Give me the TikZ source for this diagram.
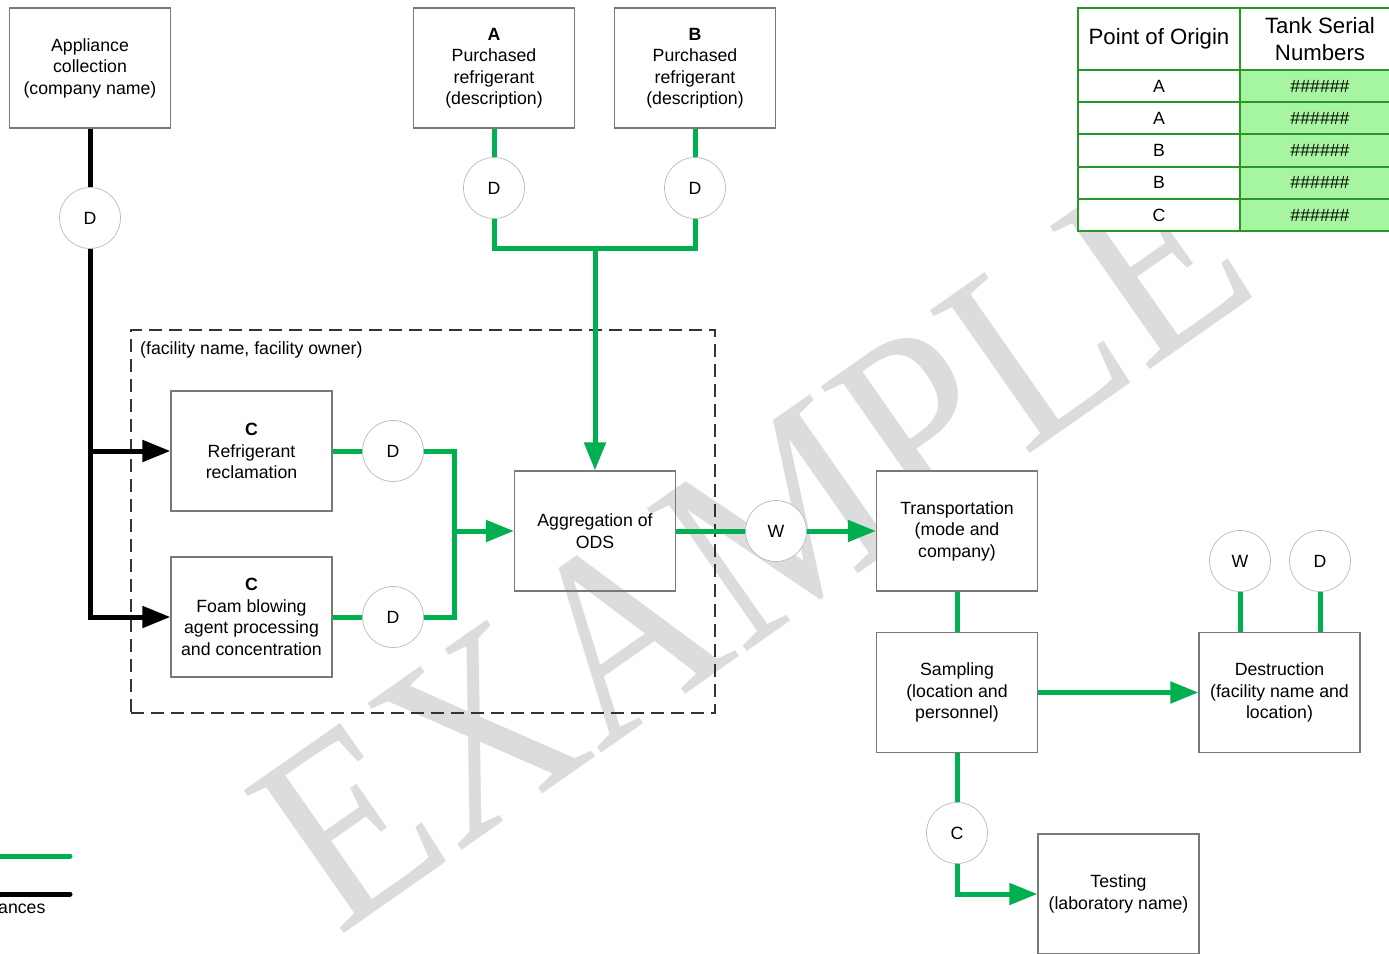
\documentclass[tikz,border=0pt]{standalone}
\usepackage{fontspec}
\setmainfont{Liberation Sans}
\newfontfamily\wmfont{Liberation Serif}
\usetikzlibrary{arrows.meta}
\definecolor{flowgreen}{RGB}{0,176,80}
\definecolor{tabgreen}{RGB}{40,150,40}
\definecolor{tabfill}{RGB}{166,245,160}
\definecolor{wmgray}{RGB}{220,220,220}
\definecolor{boxgray}{RGB}{120,120,120}
\begin{document}
\begin{tikzpicture}[x=1pt,y=-1pt,
  txt/.style={font=\fontsize{17.7}{21.5}\selectfont},
  box/.style={txt, draw=boxgray, line width=1.2pt, fill=white, minimum width=161pt, minimum height=120pt, inner sep=0pt, align=center},
  openbox/.style={box, fill=none},
  dot/.style={txt, circle, draw=gray!55, line width=0.7pt, fill=white, minimum size=61pt, inner sep=0pt},
  gline/.style={draw=flowgreen, line width=5pt},
  garrow/.style={gline, -{Triangle[length=28pt,width=21pt]}},
  bline/.style={draw=black, line width=5pt},
  barrow/.style={bline, -{Triangle[length=28pt,width=21pt]}},
  tabtxt/.style={txt, inner sep=0pt},
  tabhead/.style={font=\fontsize{22.2}{27}\selectfont, inner sep=0pt, align=center}
]
\useasboundingbox (0,0) rectangle (1389,953);
\clip (0,0) rectangle (1389,953);

% watermark
\node[rotate=35, anchor=base west, inner sep=0pt, text=wmgray, font=\wmfont\fontsize{266}{266}\selectfont] (wm) at (338,938) {\scalebox{0.9}[1]{EXAMPLE}};

% facility dashed frame
\node[draw=black!80, line width=1.8pt, dash pattern=on 13pt off 7pt, minimum width=584pt, minimum height=383pt, inner sep=0pt] (fac) at (423,521.5) {};
\node[txt, anchor=west, inner sep=0pt] (faclabel) at (140,350) {(facility name, facility owner)};

% boxes
\node[box] (app) at (90,68) {Appliance\\collection\\(company name)};
\node[box] (boxA) at (494,68) {\textbf{A}\\Purchased\\refrigerant\\(description)};
\node[box] (boxB) at (695,68) {\textbf{B}\\Purchased\\refrigerant\\(description)};
\node[box] (c1) at (251.5,451) {\textbf{C}\\Refrigerant\\reclamation};
\node[box] (c2) at (251.5,617) {\textbf{C}\\Foam blowing\\agent processing\\and concentration};
\node[openbox] (agg) at (595,531) {Aggregation of\\ODS};
\node[box] (trans) at (957,531) {Transportation\\(mode and\\company)};
\node[box] (samp) at (957,692.5) {Sampling\\(location and\\personnel)};
\node[box] (dest) at (1279.5,692.5) {Destruction\\(facility name and\\location)};
\node[box] (test) at (1118.5,894) {Testing\\(laboratory name)};

% circles
\node[dot] (dApp) at (90,218) {D};
\node[dot] (dA) at (494,188) {D};
\node[dot] (dB) at (695,188) {D};
\node[dot] (dc1) at (393,451) {D};
\node[dot] (dc2) at (393,617) {D};
\node[dot] (w1) at (776,531) {W};
\node[dot] (wd) at (1240,561) {W};
\node[dot] (dd) at (1320,561) {D};
\node[dot] (cc) at (957,833) {C};

% junctions
\coordinate (jAB) at (595,248);
\coordinate (jG) at (454,531);

% black connectors
\draw[bline] (app) -- (dApp);
\draw[barrow] (dApp) |- (c1);
\draw[barrow] (dApp) |- (c2);

% green connectors
\draw[gline] (boxA) -- (dA);
\draw[gline] (boxB) -- (dB);
\draw[gline] (dA) |- (jAB) -| (dB);
\draw[garrow] (jAB) -- (agg);
\draw[gline] (c1) -- (dc1);
\draw[gline] (c2) -- (dc2);
\draw[gline] (dc1) -| (jG);
\draw[gline] (dc2) -| (jG);
\draw[garrow] (jG) -- (agg);
\draw[gline] (agg) -- (w1);
\draw[garrow] (w1) -- (trans);
\draw[gline] (trans) -- (samp);
\draw[garrow] (samp) -- (dest);
\draw[gline] (wd) -- (wd |- dest.north);
\draw[gline] (dd) -- (dd |- dest.north);
\draw[gline] (samp) -- (cc);
\draw[garrow] (cc) |- (test);

% table
\fill[white] (1078,8) rectangle (1402,70);
\fill[white] (1078,70) rectangle (1240,231);
\fill[tabfill] (1240,70) rectangle (1402,231);
\draw[tabgreen, line width=2pt] (1078,8) rectangle (1402,231);
\draw[tabgreen, line width=2pt] (1240,8) -- (1240,231);
\foreach \yy in {70,102.2,134.4,166.6,198.8} {
  \draw[tabgreen, line width=2pt] (1078,\yy) -- (1402,\yy);
}
\node[tabhead] (th1) at (1159,39) {Point of Origin};
\node[tabhead] (th2) at (1320,39) {Tank Serial\\Numbers};
\node[tabtxt] (r1a) at (1159,86) {A};
\node[tabtxt] (r2a) at (1159,118) {A};
\node[tabtxt] (r3a) at (1159,150) {B};
\node[tabtxt] (r4a) at (1159,182) {B};
\node[tabtxt] (r5a) at (1159,215) {C};
\node[tabtxt] (r1b) at (1320,86) {\#\#\#\#\#\#};
\node[tabtxt] (r2b) at (1320,118) {\#\#\#\#\#\#};
\node[tabtxt] (r3b) at (1320,150) {\#\#\#\#\#\#};
\node[tabtxt] (r4b) at (1320,182) {\#\#\#\#\#\#};
\node[tabtxt] (r5b) at (1320,215) {\#\#\#\#\#\#};

% legend
\coordinate (lg1a) at (-10,856);
\coordinate (lg1b) at (70,856);
\coordinate (lg2a) at (-10,894);
\coordinate (lg2b) at (70,894);
\draw[gline, line cap=round] (lg1a) -- (lg1b);
\draw[bline, line cap=round] (lg2a) -- (lg2b);
\node[txt, anchor=west, inner sep=0pt] (lgt) at (-2,909) {ances};
\end{tikzpicture}
\end{document}
